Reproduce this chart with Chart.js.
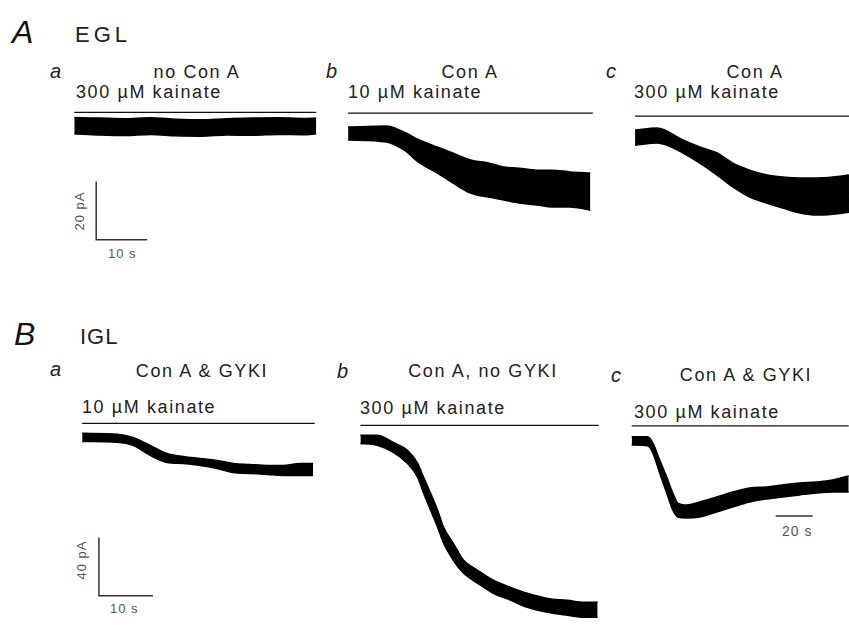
<!DOCTYPE html>
<html>
<head>
<meta charset="utf-8">
<script src="https://cdn.jsdelivr.net/npm/chart.js@4.4.1/dist/chart.umd.min.js"></script>
<style>
  body { margin:0; background:#fff; width:849px; height:625px; position:relative; overflow:hidden;
         font-family:"Liberation Sans", Arial, sans-serif; color:#222; }
  canvas { position:absolute; }
  .t { position:absolute; white-space:nowrap; line-height:1; }
  .big { font-size:32px; font-style:italic; color:#111; }
  .sec { font-size:22px; letter-spacing:2px; }
  .lt  { font-size:20px; font-style:italic; }
  .lab { font-size:18px; letter-spacing:1.6px; }
  .sb  { font-size:13px; color:#555; letter-spacing:1px; }
</style>
</head>
<body>

<div class="t big" style="left:12px;top:16px">A</div>
<div class="t sec" style="left:75px;top:24px;letter-spacing:4px">EGL</div>
<div class="t lt"  style="left:50px;top:61px">a</div>
<div class="t lab" style="left:197px;top:63px;transform:translateX(-50%)">no Con A</div>
<div class="t lab" style="left:76px;top:83px">300 µM kainate</div>
<div class="t lt"  style="left:326px;top:61px">b</div>
<div class="t lab" style="left:470px;top:63px;transform:translateX(-50%)">Con A</div>
<div class="t lab" style="left:348px;top:83px">10 µM kainate</div>
<div class="t lt"  style="left:606px;top:61px">c</div>
<div class="t lab" style="left:755px;top:63px;transform:translateX(-50%)">Con A</div>
<div class="t lab" style="left:634px;top:83px">300 µM kainate</div>

<div class="t sb" style="left:79px;top:211px;transform:translate(-50%,-50%) rotate(-90deg)">20 pA</div>
<div class="t sb" style="left:108px;top:247px">10 s</div>

<div class="t big" style="left:14px;top:318px">B</div>
<div class="t sec" style="left:80px;top:326px;letter-spacing:1px">IGL</div>
<div class="t lt"  style="left:50px;top:359px">a</div>
<div class="t lab" style="left:202px;top:362px;transform:translateX(-50%)">Con A &amp; GYKI</div>
<div class="t lab" style="left:82px;top:398px">10 µM kainate</div>
<div class="t lt"  style="left:337px;top:361px">b</div>
<div class="t lab" style="left:483px;top:362px;transform:translateX(-50%)">Con A, no GYKI</div>
<div class="t lab" style="left:360px;top:399px">300 µM kainate</div>
<div class="t lt"  style="left:611px;top:365px">c</div>
<div class="t lab" style="left:746px;top:366px;transform:translateX(-50%)">Con A &amp; GYKI</div>
<div class="t lab" style="left:634px;top:403px">300 µM kainate</div>

<div class="t sb" style="left:81px;top:560px;transform:translate(-50%,-50%) rotate(-90deg)">40 pA</div>
<div class="t sb" style="left:110px;top:602px">10 s</div>
<div class="t sb" style="left:782px;top:524px;font-size:14px">20 s</div>

<script>
// time in s, current in pA relative to baseline (inward = negative)
// upper / lower = edges of the noisy trace

// A a  EGL, 300 uM kainate, no Con A
const aaTime  = [0, 5, 10, 15, 20, 25, 30, 35, 40, 45, 47.5];
const aaUpper = [3.0, 2.8, 2.6, 2.9, 2.4, 2.2, 2.6, 2.8, 2.9, 2.7, 2.8];
const aaLower = [-2.6, -3.0, -3.2, -2.8, -3.3, -3.4, -3.0, -3.1, -2.8, -2.9, -2.6];
const aaDrug  = [0, 47.5];

// A b  EGL, 10 uM kainate, Con A
const abTime  = [0, 7.5, 11, 14, 17.5, 20.5, 24, 27.5, 30.5, 33.5, 37, 40, 43.5, 47.5];
const abUpper = [2.1, 2.4, 0.3, -2.4, -4.8, -6.9, -9.3, -10.3, -11.7, -12.1, -12.8, -12.8, -13.4, -13.8];
const abLower = [-2.4, -3.1, -5.9, -10.3, -13.8, -17.2, -20.7, -22.1, -23.1, -24.1, -24.8, -25.5, -25.5, -26.6];
const abDrug  = [0, 48];

// A c  EGL, 300 uM kainate, Con A
const acTime  = [0, 4.3, 9.4, 12.7, 16.1, 19.2, 22.5, 25.9, 29, 32.4, 35.7, 38.8, 42];
const acUpper = [2.4, 3.1, -1.0, -3.4, -5.5, -9.0, -11.4, -13.1, -13.8, -14.1, -14.1, -13.8, -13.1];
const acLower = [-2.8, -2.1, -5.5, -9.0, -13.1, -17.2, -20.7, -22.8, -24.5, -26.2, -26.9, -26.6, -25.9];
const acDrug  = [0, 42];

// B a  IGL, 10 uM kainate, Con A & GYKI
const baTime  = [0, 6.5, 9.4, 12.6, 15.7, 18.7, 21.9, 25, 28, 31.1, 34.3, 37.2, 40.4, 42.8];
const baUpper = [2.8, 2.1, 0, -5.5, -11.0, -13.1, -14.5, -15.9, -17.9, -18.6, -19.3, -19.3, -17.9, -17.9];
const baLower = [-2.8, -3.4, -5.5, -12.4, -17.2, -17.9, -19.3, -21.4, -24.1, -24.8, -25.5, -26.2, -26.2, -26.2];
const baDrug  = [0, 43.1];

// B b  IGL, 300 uM kainate, Con A, no GYKI
const bbTime  = [0, 3.1, 6.1, 8.7, 10.6, 11.7, 13, 14.3, 15.4, 17.2, 19.1, 21.7, 24.6, 27.8, 30.9, 34.6, 38.3, 41.3, 43.9];
const bbUpper = [2.8, 2.8, -2.1, -7.6, -16.6, -26.2, -37.2, -49.0, -60.7, -71.7, -83.4, -90.3, -97.2, -102.1, -106.2, -109.7, -111.0, -112.4, -112.4];
const bbLower = [-2.8, -4.1, -9.0, -16.6, -26.2, -37.2, -49.0, -60.7, -71.7, -83.4, -92.4, -99.3, -106.2, -111.0, -115.9, -119.3, -121.4, -122.8, -122.8];
const bbDrug  = [0, 44.1];

// B c  IGL, 300 uM kainate, Con A & GYKI (slower sweep)
const bcTime  = [0, 8.6, 11.4, 15.1, 18.9, 22.2, 24.9, 29.7, 36.8, 45.9, 54.6, 63.8, 73, 81.6, 90.8, 100, 108.6, 117.3];
const bcUpper = [2.8, 2.8, -1.4, -13.1, -24.8, -35.9, -42.8, -44.1, -42.1, -38.6, -35.2, -32.4, -31.7, -30.3, -29.0, -28.3, -26.9, -24.1];
const bcLower = [-2.8, -3.4, -8.3, -22.1, -35.9, -47.6, -52.4, -53.1, -52.4, -49.0, -45.5, -42.1, -40.0, -38.6, -37.2, -35.9, -35.2, -35.2];
const bcDrug  = [0, 117.3];

// layout: pixel of (t=0, I=0), px per s, px per pA, visible ranges
const panels = [
  { time: aaTime, upper: aaUpper, lower: aaLower, drug: aaDrug, drugAt: 4.8,
    x0: 74, y0: 126, pxS: 5.1, pxPA: 2.9, xr: [-3, 50], yr: [-46, 8],
    bar: { t: 4.3, i: -39, dt: 10, di: 20 } },
  { time: abTime, upper: abUpper, lower: abLower, drug: abDrug, drugAt: 6.9,
    x0: 348, y0: 133, pxS: 5.1, pxPA: 2.9, xr: [-1, 49], yr: [-30, 9] },
  { time: acTime, upper: acUpper, lower: acLower, drug: acDrug, drugAt: 7.2,
    x0: 635, y0: 137, pxS: 5.1, pxPA: 2.9, xr: [-1, 42.2], yr: [-31, 10] },
  { time: baTime, upper: baUpper, lower: baLower, drug: baDrug, drugAt: 9.7,
    x0: 82, y0: 437, pxS: 5.4, pxPA: 1.45, xr: [-3, 45], yr: [-112, 12],
    bar: { t: 3.1, i: -109, dt: 10, di: 40 } },
  { time: bbTime, upper: bbUpper, lower: bbLower, drug: bbDrug, drugAt: 9.7,
    x0: 360, y0: 439, pxS: 5.4, pxPA: 1.45, xr: [-1, 46], yr: [-126, 12] },
  { time: bcTime, upper: bcUpper, lower: bcLower, drug: bcDrug, drugAt: 10.3,
    x0: 632, y0: 441, pxS: 1.85, pxPA: 1.45, xr: [-2, 118], yr: [-60, 13],
    bar: { t: 77.8, i: -51.7, dt: 20, di: 0 } }
];

function pts(xs, ys) {
  return xs.map((x, i) => ({ x: x, y: ys[i] }));
}

panels.forEach(p => {
  const cv = document.createElement("canvas");
  const w = Math.round((p.xr[1] - p.xr[0]) * p.pxS);
  const h = Math.round((p.yr[1] - p.yr[0]) * p.pxPA);
  cv.width = w; cv.height = h;
  cv.style.width = w + "px"; cv.style.height = h + "px";
  cv.style.left = (p.x0 + p.xr[0] * p.pxS) + "px";
  cv.style.top = (p.y0 - p.yr[1] * p.pxPA) + "px";
  document.body.appendChild(cv);

  const sets = [
    { data: pts(p.time, p.upper), borderColor: "#000", backgroundColor: "#000",
      borderWidth: 1.5, fill: "+1", cubicInterpolationMode: "monotone" },
    { data: pts(p.time, p.lower), borderColor: "#000",
      borderWidth: 1.5, fill: false, cubicInterpolationMode: "monotone" },
    { data: pts(p.drug, [p.drugAt, p.drugAt]), borderColor: "#111",
      borderWidth: 1.3, fill: false }
  ];
  if (p.bar) {
    const b = p.bar;
    const line = b.di
      ? [{ x: b.t, y: b.i + b.di }, { x: b.t, y: b.i }, { x: b.t + b.dt, y: b.i }]
      : [{ x: b.t, y: b.i }, { x: b.t + b.dt, y: b.i }];
    sets.push({ data: line, borderColor: "#333", borderWidth: 1.5, fill: false });
  }

  new Chart(cv, {
    type: "line",
    data: { datasets: sets },
    options: {
      responsive: false,
      animation: false,
      devicePixelRatio: 1,
      layout: { padding: 0 },
      elements: { point: { radius: 0 } },
      plugins: { legend: { display: false }, tooltip: { enabled: false } },
      scales: {
        x: { type: "linear", display: false, min: p.xr[0], max: p.xr[1] },
        y: { type: "linear", display: false, min: p.yr[0], max: p.yr[1] }
      }
    }
  });
});
</script>
</body>
</html>
